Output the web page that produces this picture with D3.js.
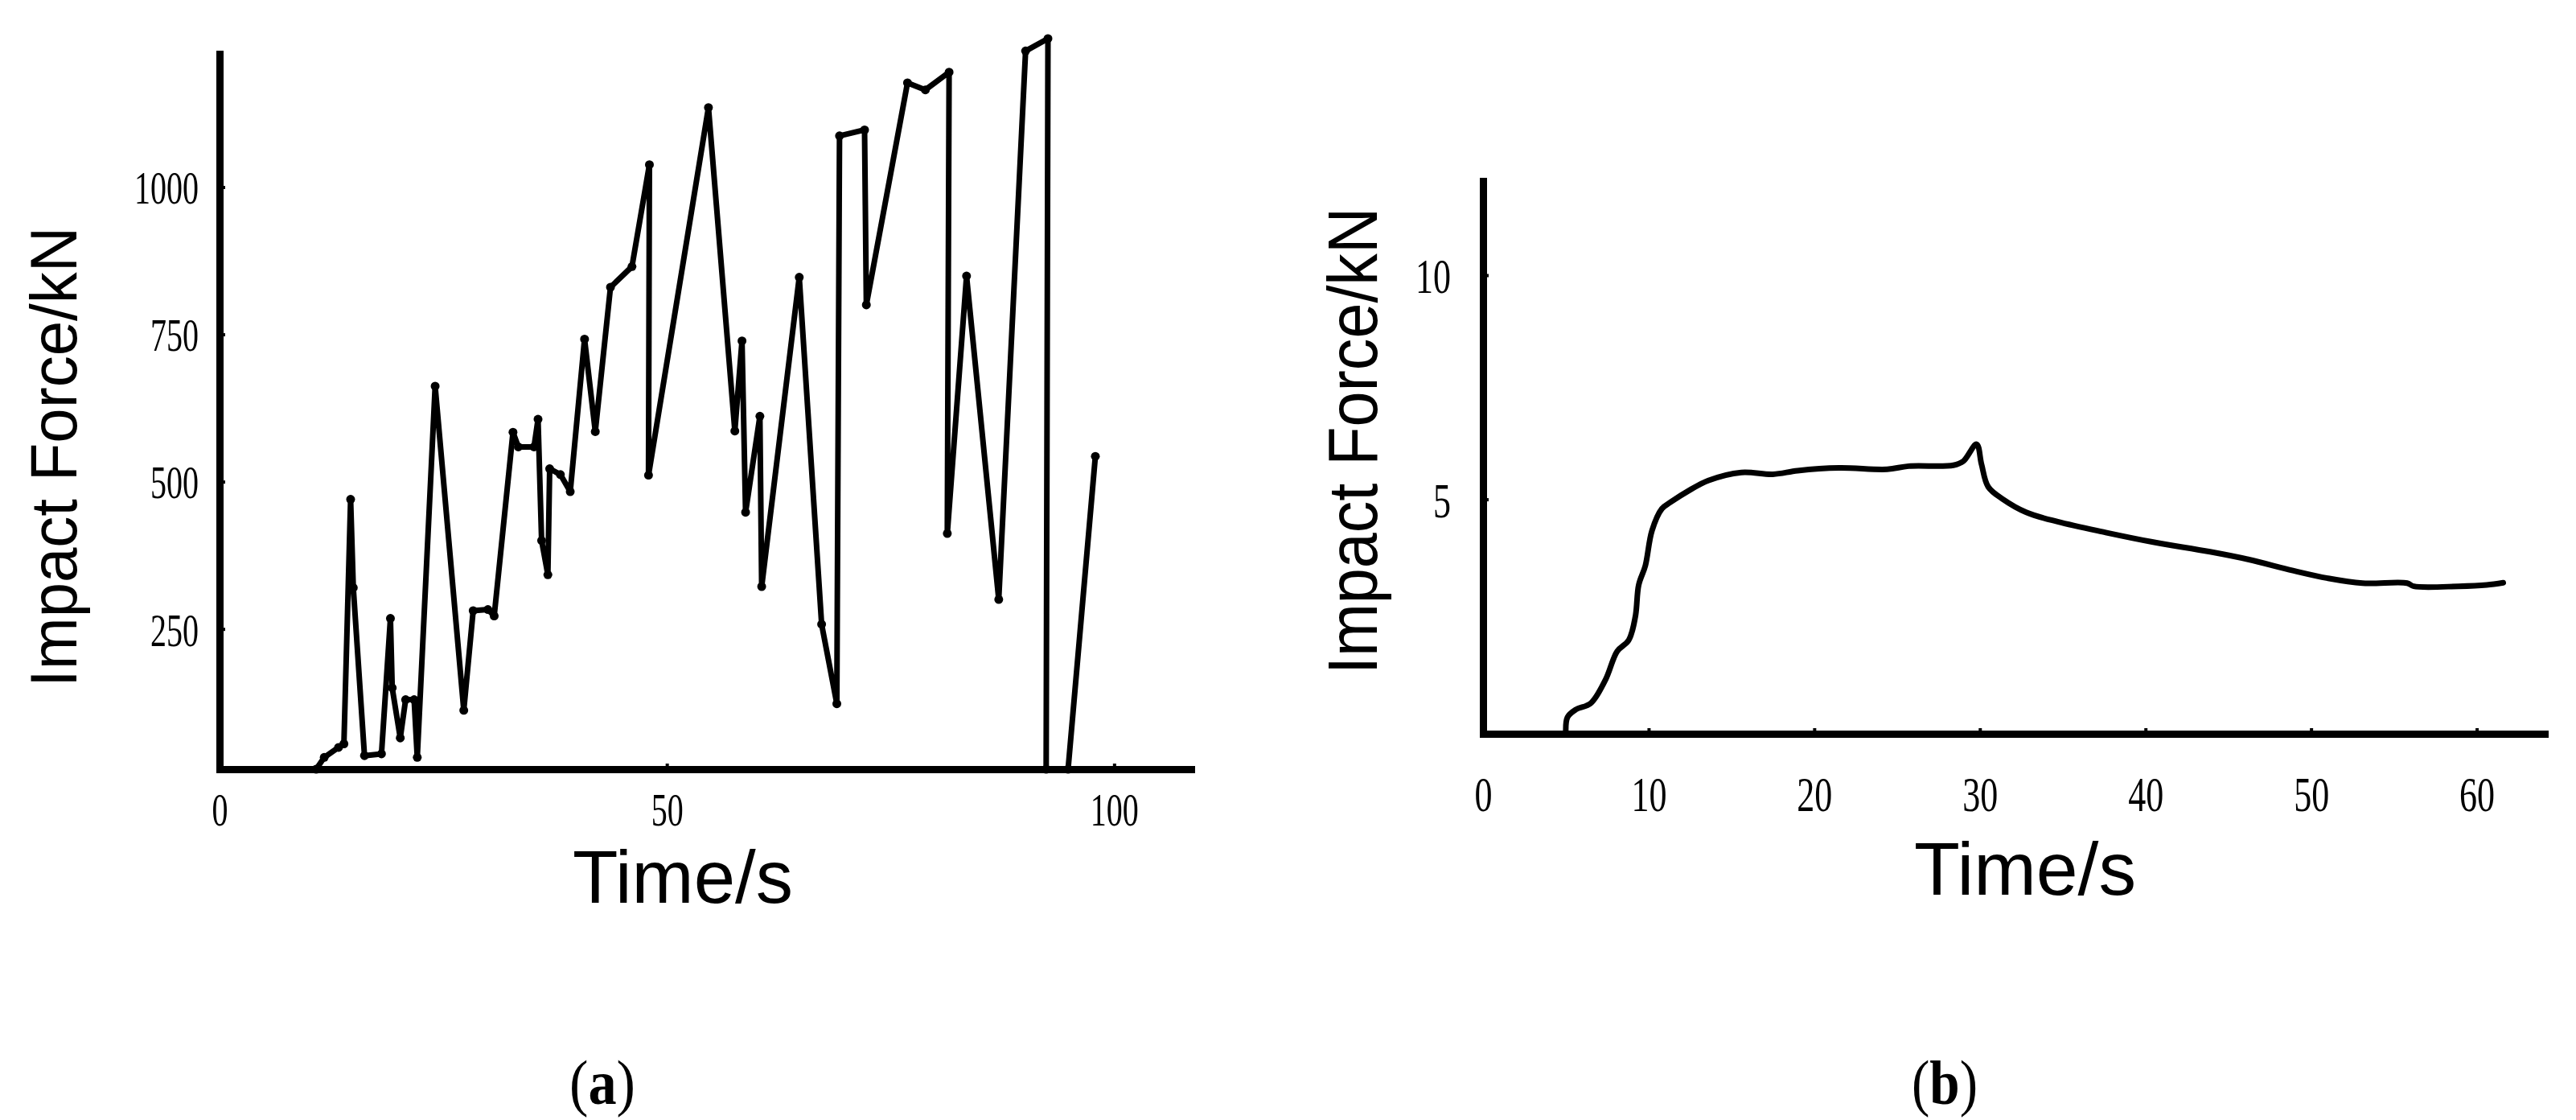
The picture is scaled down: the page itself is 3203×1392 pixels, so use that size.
<!DOCTYPE html>
<html><head><meta charset="utf-8">
<script src="https://cdn.jsdelivr.net/npm/d3@7"></script>
<style>html,body{margin:0;padding:0;background:#fff;} svg{display:block;}</style>
</head><body>
<svg id="chart" width="3203" height="1392"></svg>
<script>
// ---------- data (a) ----------
const timeA  = [10.8, 11.7, 13.3, 13.9, 14.65, 14.95, 16.2, 18.1, 19.1, 19.3, 20.2, 20.8, 21.75, 22.1, 24.1, 27.3, 28.35, 30.0, 30.7, 32.8, 33.4, 35.15, 35.6, 36.0, 36.7, 36.9, 38.1, 39.2, 40.8, 42.0, 43.7, 46.1, 48.05, 47.95, 54.65, 57.6, 58.4, 58.8, 60.4, 60.6, 64.8, 67.3, 69.0, 69.3, 72.1, 72.3, 76.9, 78.9, 81.55, 81.35, 83.5, 87.1, 90.1, 92.6, 92.4, 94.85, 97.9];
const forceA = [12, 32, 49, 55, 470, 320, 35, 38, 268, 150, 65, 130, 130, 32, 662, 112, 281, 283, 272, 584, 559, 559, 606, 400, 342, 522, 512, 483, 742, 585, 830, 865, 1038, 511, 1135, 586, 739, 448, 611, 322, 847, 258, 123, 1087, 1097, 800, 1177, 1165, 1195, 412, 849, 300, 1231, 1252, 12, 12, 543];
const ticksAx = [0, 50, 100];
const ticksAy = [250, 500, 750, 1000];

// ---------- data (b) ----------
const timeB  = [5.0, 5.1, 5.6, 6.5, 7.4, 8.1, 8.8, 9.2, 9.4, 9.8, 10.2, 10.8, 11.3, 12.5, 13.6, 15.6, 17.5, 19.0, 21.5, 24.4, 25.7, 28.4, 29.0, 29.8, 30.1, 30.5, 31.4, 32.8, 34.7, 37.6, 40.4, 43.9, 46.2, 48.9, 51.0, 53.1, 55.8, 56.2, 58.9, 60.6, 61.6];
const forceB = [-0.22, 0.14, 0.31, 0.45, 0.98, 1.61, 1.86, 2.39, 3.09, 3.52, 4.30, 4.79, 4.93, 5.21, 5.42, 5.60, 5.56, 5.64, 5.70, 5.67, 5.74, 5.76, 5.85, 6.23, 5.78, 5.28, 5.00, 4.71, 4.50, 4.26, 4.05, 3.83, 3.66, 3.41, 3.24, 3.13, 3.13, 3.06, 3.06, 3.09, 3.14];
const ticksBx = [0, 10, 20, 30, 40, 50, 60];
const ticksBy = [5, 10];

const xTitle = "Time/s";
const yTitle = "Impact Force/kN";
const panelLetters = ["a", "b"];

const svg = d3.select("#chart");
svg.append("rect").attr("width", 3203).attr("height", 1392).attr("fill", "#fff");

const serif = "'Liberation Serif','Times New Roman',serif";
const sans = "'Liberation Sans',Arial,sans-serif";

function panel(cfg) {
  const g = svg.append("g");
  const x = d3.scaleLinear().domain(cfg.xDomain).range(cfg.xRange);
  const y = d3.scaleLinear().domain(cfg.yDomain).range(cfg.yRange);

  const xAxis = g.append("g")
    .attr("transform", `translate(0,${cfg.yRange[0]})`)
    .call(d3.axisBottom(x).tickValues(cfg.xTicks).tickSize(-7).tickSizeOuter(0).tickFormat(d3.format("d")));
  const yAxis = g.append("g")
    .attr("transform", `translate(${cfg.xRange[0]},0)`)
    .call(d3.axisLeft(y).tickValues(cfg.yTicks).tickSize(-7).tickSizeOuter(0).tickFormat(d3.format("d")));

  [xAxis, yAxis].forEach(a => {
    a.select(".domain").attr("stroke", "#000").attr("stroke-width", cfg.axisW).attr("stroke-linecap", "square");
    a.selectAll(".tick line").attr("stroke", "#000").attr("stroke-width", 4);
  });
  xAxis.selectAll(".tick text")
    .attr("y", cfg.xLabOff).attr("dy", "0.35em")
    .attr("font-family", serif).attr("font-size", cfg.labSize).attr("fill", "#000")
    .attr("textLength", d => String(d).length * cfg.digitW).attr("lengthAdjust", "spacingAndGlyphs");
  yAxis.selectAll(".tick text")
    .attr("x", -cfg.yLabOff).attr("dy", "0.35em")
    .attr("font-family", serif).attr("font-size", cfg.labSize).attr("fill", "#000")
    .attr("textLength", d => String(d).length * cfg.digitW).attr("lengthAdjust", "spacingAndGlyphs");

  const pts = cfg.t.map((t, i) => [t, cfg.v[i]]);
  const line = d3.line().x(d => x(d[0])).y(d => y(d[1])).curve(cfg.curve);
  g.append("path").datum(pts).attr("d", line)
    .attr("fill", "none").attr("stroke", "#000").attr("stroke-width", cfg.lineW)
    .attr("stroke-linejoin", "round").attr("stroke-linecap", "round");
  if (cfg.dots) {
    g.selectAll("circle.pt").data(pts).join("circle").attr("class", "pt")
      .attr("cx", d => x(d[0])).attr("cy", d => y(d[1])).attr("r", cfg.dots).attr("fill", "#000");
  }

  g.append("text").text(xTitle)
    .attr("x", cfg.xTitle[0]).attr("y", cfg.xTitle[1]).attr("text-anchor", "middle")
    .attr("font-family", sans).attr("font-size", cfg.xTitleSize)
    .attr("textLength", cfg.xTitleLen).attr("lengthAdjust", "spacingAndGlyphs");
  g.append("text").text(yTitle)
    .attr("transform", `translate(${cfg.yTitle[0]},${cfg.yTitle[1]}) rotate(-90)`)
    .attr("text-anchor", "middle")
    .attr("font-family", sans).attr("font-size", cfg.yTitleSize)
    .attr("textLength", cfg.yTitleLen).attr("lengthAdjust", "spacingAndGlyphs");

  const cap = g.append("text").attr("x", cfg.cap[0]).attr("y", cfg.cap[1]).attr("text-anchor", "middle")
    .attr("font-family", serif).attr("font-size", 78)
    .attr("textLength", 82).attr("lengthAdjust", "spacingAndGlyphs");
  cap.append("tspan").text("(");
  cap.append("tspan").attr("font-weight", "bold").text(cfg.letter);
  cap.append("tspan").text(")");
}

panel({
  t: timeA, v: forceA,
  xDomain: [0, 108.6], xRange: [273, 1481],
  yDomain: [12, 1226], yRange: [956, 67],
  xTicks: ticksAx, yTicks: ticksAy,
  axisW: 9, lineW: 7, dots: 5.5, curve: d3.curveLinear,
  xLabOff: 50, labSize: 58, digitW: 20, yLabOff: 26,
  xTitle: [849, 1122], xTitleSize: 93, xTitleLen: 274,
  yTitle: [95, 568], yTitleSize: 82, yTitleLen: 572,
  cap: [749, 1372], letter: panelLetters[0]
});

panel({
  t: timeB, v: forceB,
  xDomain: [0, 64.1], xRange: [1844, 3164],
  yDomain: [-0.23, 12.1], yRange: [912, 225],
  xTicks: ticksBx, yTicks: ticksBy,
  axisW: 9, lineW: 7, dots: 0, curve: d3.curveCatmullRom.alpha(0.5),
  xLabOff: 74, labSize: 62, digitW: 22, yLabOff: 40,
  xTitle: [2518, 1112], xTitleSize: 93, xTitleLen: 276,
  yTitle: [1712, 548], yTitleSize: 88, yTitleLen: 580,
  cap: [2418, 1372], letter: panelLetters[1]
});
</script>
</body></html>
